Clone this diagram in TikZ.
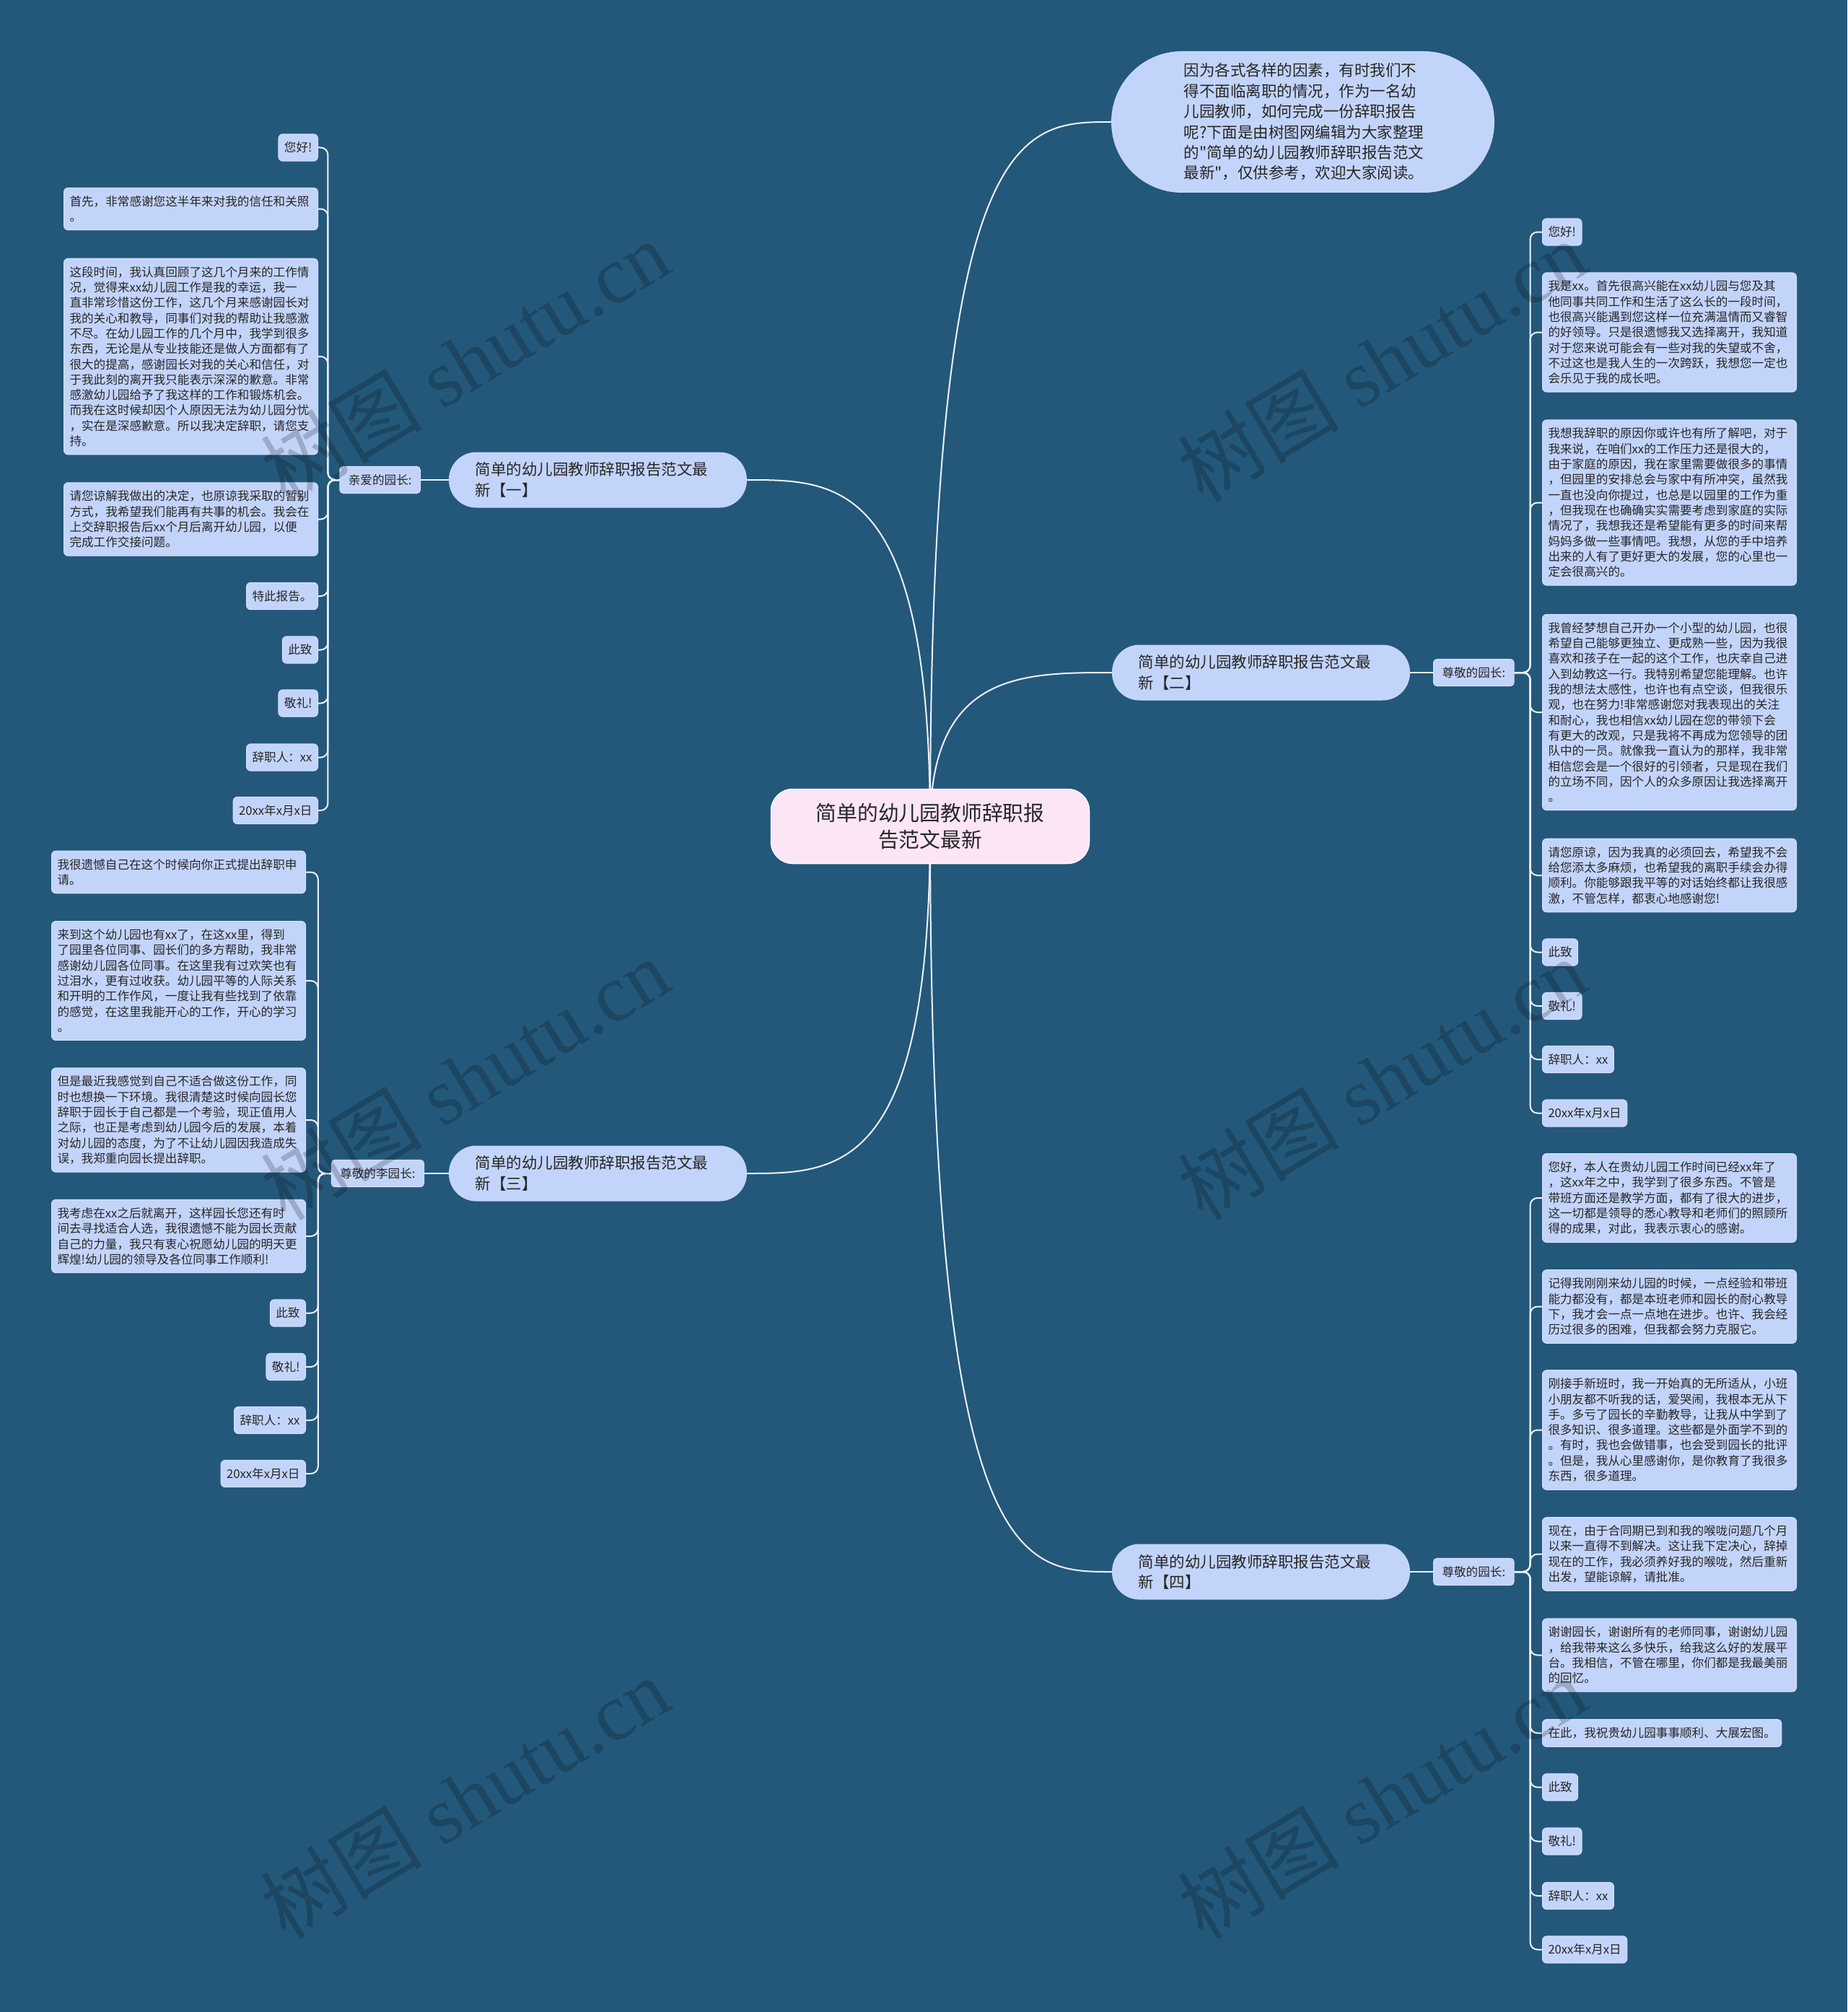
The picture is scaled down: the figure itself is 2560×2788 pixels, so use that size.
\documentclass[tikz,border=0pt]{standalone}
\usepackage{fontspec}
\newfontfamily\cjkfont{Noto Sans CJK SC}
\newfontfamily\wmfont{Liberation Serif}

\definecolor{bgblue}{HTML}{23587A}
\definecolor{leaffill}{HTML}{C3D4FA}
\definecolor{rootfill}{HTML}{FCE5F7}
\definecolor{linecol}{HTML}{EEF2FA}
\definecolor{textcol}{HTML}{262626}

\pgfdeclarelayer{back}
\pgfdeclarelayer{lines}
\pgfsetlayers{back,lines,main}

\tikzset{
  leaf/.style={fill=leaffill, draw=leaffill!70!white, line width=1pt, rounded corners=6pt,
    text=textcol, inner xsep=8pt, inner ysep=11pt, font=\cjkfont\fontsize{16.6}{21.3}\selectfont},
  longleaf/.style={leaf, text width=336pt, align=left},
  greet/.style={leaf, rounded corners=5pt, inner xsep=12pt},
  branch/.style={fill=leaffill, rounded corners=38pt, text=textcol, minimum width=413pt,
    minimum height=77pt, text width=340pt, align=left, inner sep=0pt,
    font=\cjkfont\fontsize{21.5}{28.4}\selectfont},
  intro/.style={branch, rounded corners=98pt, minimum width=531pt, minimum height=196pt, text width=330pt},
  root/.style={fill=rootfill, draw=white, line width=1.5pt, rounded corners=30pt, minimum width=441pt,
    minimum height=103pt, align=center, text=textcol, font=\cjkfont\fontsize{28.8}{37}\selectfont},
  conn/.style={draw=linecol, line width=2pt},
  spine/.style={conn, rounded corners=10pt},
  wmark/.style={rotate=31, text=black, opacity=0.2, font=\wmfont\fontsize{112}{112}\selectfont}
}

\begin{document}
\begin{tikzpicture}[x=1pt,y=-1pt]
  % Hintergrund
  \begin{pgfonlayer}{back}
    \fill[bgblue] (0,0) rectangle (2560,2788);
  \end{pgfonlayer}

  % Mitte
  \node[root] (root) at (1289,1145) {简单的幼儿园教师辞职报\\告范文最新};
  \node[intro] (intro) at (1805.5,169) {因为各式各样的因素，有时我们不\\得不面临离职的情况，作为一名幼\\儿园教师，如何完成一份辞职报告\\呢?下面是由树图网编辑为大家整理\\的"简单的幼儿园教师辞职报告范文\\最新"，仅供参考，欢迎大家阅读。};

  % Hauptzweige
  \node[branch] (br1) at (828.5,665) {简单的幼儿园教师辞职报告范文最\\新【一】};
  \node[branch] (br2) at (1747.5,932) {简单的幼儿园教师辞职报告范文最\\新【二】};
  \node[branch] (br3) at (828.5,1626) {简单的幼儿园教师辞职报告范文最\\新【三】};
  \node[branch] (br4) at (1747.5,2178) {简单的幼儿园教师辞职报告范文最\\新【四】};

  \node[greet, anchor=east] (g1) at (583,665) {亲爱的园长:};
  \node[greet, anchor=west] (g2) at (1986,932) {尊敬的园长:};
  \node[greet, anchor=east] (g3) at (588,1626) {尊敬的李园长:};
  \node[greet, anchor=west] (g4) at (1986,2178) {尊敬的园长:};

  % Zweig eins
  \node[leaf, anchor=east] (b1-1) at (441,204.5) {您好!};
  \node[longleaf, anchor=east] (b1-2) at (441,289.5) {首先，非常感谢您这半年来对我的信任和关照\\。};
  \node[longleaf, anchor=east] (b1-3) at (441,494) {这段时间，我认真回顾了这几个月来的工作情\\况，觉得来xx幼儿园工作是我的幸运，我一\\直非常珍惜这份工作，这几个月来感谢园长对\\我的关心和教导，同事们对我的帮助让我感激\\不尽。在幼儿园工作的几个月中，我学到很多\\东西，无论是从专业技能还是做人方面都有了\\很大的提高，感谢园长对我的关心和信任，对\\于我此刻的离开我只能表示深深的歉意。非常\\感激幼儿园给予了我这样的工作和锻炼机会。\\而我在这时候却因个人原因无法为幼儿园分忧\\，实在是深感歉意。所以我决定辞职，请您支\\持。};
  \node[longleaf, anchor=east] (b1-4) at (441,719.5) {请您谅解我做出的决定，也原谅我采取的暂别\\方式，我希望我们能再有共事的机会。我会在\\上交辞职报告后xx个月后离开幼儿园，以便\\完成工作交接问题。};
  \node[leaf, anchor=east] (b1-5) at (441,826) {特此报告。};
  \foreach \t/\y [count=\i from 6] in {此致/900.5, 敬礼!/974.5, 辞职人：xx/1049.5, 20xx年x月x日/1123}
    \node[leaf, anchor=east] (b1-\i) at (441,\y) {\t};

  % Zweig zwei
  \node[leaf, anchor=west] (b2-1) at (2137,321.5) {您好!};
  \node[longleaf, anchor=west] (b2-2) at (2137,460.5) {我是xx。首先很高兴能在xx幼儿园与您及其\\他同事共同工作和生活了这么长的一段时间，\\也很高兴能遇到您这样一位充满温情而又睿智\\的好领导。只是很遗憾我又选择离开，我知道\\对于您来说可能会有一些对我的失望或不舍，\\不过这也是我人生的一次跨跃，我想您一定也\\会乐见于我的成长吧。};
  \node[longleaf, anchor=west] (b2-3) at (2137,696.5) {我想我辞职的原因你或许也有所了解吧，对于\\我来说，在咱们xx的工作压力还是很大的，\\由于家庭的原因，我在家里需要做很多的事情\\，但园里的安排总会与家中有所冲突，虽然我\\一直也没向你提过，也总是以园里的工作为重\\，但我现在也确确实实需要考虑到家庭的实际\\情况了，我想我还是希望能有更多的时间来帮\\妈妈多做一些事情吧。我想，从您的手中培养\\出来的人有了更好更大的发展，您的心里也一\\定会很高兴的。};
  \node[longleaf, anchor=west] (b2-4) at (2137,987) {我曾经梦想自己开办一个小型的幼儿园，也很\\希望自己能够更独立、更成熟一些，因为我很\\喜欢和孩子在一起的这个工作，也庆幸自己进\\入到幼教这一行。我特别希望您能理解。也许\\我的想法太感性，也许也有点空谈，但我很乐\\观，也在努力!非常感谢您对我表现出的关注\\和耐心，我也相信xx幼儿园在您的带领下会\\有更大的改观，只是我将不再成为您领导的团\\队中的一员。就像我一直认为的那样，我非常\\相信您会是一个很好的引领者，只是现在我们\\的立场不同，因个人的众多原因让我选择离开\\。};
  \node[longleaf, anchor=west] (b2-5) at (2137,1213) {请您原谅，因为我真的必须回去，希望我不会\\给您添太多麻烦，也希望我的离职手续会办得\\顺利。你能够跟我平等的对话始终都让我很感\\激，不管怎样，都衷心地感谢您!};
  \foreach \t/\y [count=\i from 6] in {此致/1319.5, 敬礼!/1394, 辞职人：xx/1468, 20xx年x月x日/1542.5}
    \node[leaf, anchor=west] (b2-\i) at (2137,\y) {\t};

  % Zweig drei
  \node[longleaf, anchor=east] (b3-1) at (424,1208.5) {我很遗憾自己在这个时候向你正式提出辞职申\\请。};
  \node[longleaf, anchor=east] (b3-2) at (424,1359) {来到这个幼儿园也有xx了，在这xx里，得到\\了园里各位同事、园长们的多方帮助，我非常\\感谢幼儿园各位同事。在这里我有过欢笑也有\\过泪水，更有过收获。幼儿园平等的人际关系\\和开明的工作作风，一度让我有些找到了依靠\\的感觉，在这里我能开心的工作，开心的学习\\。};
  \node[longleaf, anchor=east] (b3-3) at (424,1552) {但是最近我感觉到自己不适合做这份工作，同\\时也想换一下环境。我很清楚这时候向园长您\\辞职于园长于自己都是一个考验，现正值用人\\之际，也正是考虑到幼儿园今后的发展，本着\\对幼儿园的态度，为了不让幼儿园因我造成失\\误，我郑重向园长提出辞职。};
  \node[longleaf, anchor=east] (b3-4) at (424,1713) {我考虑在xx之后就离开，这样园长您还有时\\间去寻找适合人选，我很遗憾不能为园长贡献\\自己的力量，我只有衷心祝愿幼儿园的明天更\\辉煌!幼儿园的领导及各位同事工作顺利!};
  \foreach \t/\y [count=\i from 5] in {此致/1819.5, 敬礼!/1894, 辞职人：xx/1968, 20xx年x月x日/2042}
    \node[leaf, anchor=east] (b3-\i) at (424,\y) {\t};

  % Zweig vier
  \node[longleaf, anchor=west] (b4-1) at (2137,1660) {您好，本人在贵幼儿园工作时间已经xx年了\\，这xx年之中，我学到了很多东西。不管是\\带班方面还是教学方面，都有了很大的进步，\\这一切都是领导的悉心教导和老师们的照顾所\\得的成果，对此，我表示衷心的感谢。};
  \node[longleaf, anchor=west] (b4-2) at (2137,1810.5) {记得我刚刚来幼儿园的时候，一点经验和带班\\能力都没有，都是本班老师和园长的耐心教导\\下，我才会一点一点地在进步。也许、我会经\\历过很多的困难，但我都会努力克服它。};
  \node[longleaf, anchor=west] (b4-3) at (2137,1981.5) {刚接手新班时，我一开始真的无所适从，小班\\小朋友都不听我的话，爱哭闹，我根本无从下\\手。多亏了园长的辛勤教导，让我从中学到了\\很多知识、很多道理。这些都是外面学不到的\\。有时，我也会做错事，也会受到园长的批评\\。但是，我从心里感谢你，是你教育了我很多\\东西，很多道理。};
  \node[longleaf, anchor=west] (b4-4) at (2137,2153.5) {现在，由于合同期已到和我的喉咙问题几个月\\以来一直得不到解决。这让我下定决心，辞掉\\现在的工作，我必须养好我的喉咙，然后重新\\出发，望能谅解，请批准。};
  \node[longleaf, anchor=west] (b4-5) at (2137,2293.5) {谢谢园长，谢谢所有的老师同事，谢谢幼儿园\\，给我带来这么多快乐，给我这么好的发展平\\台。我相信，不管在哪里，你们都是我最美丽\\的回忆。};
  \node[leaf, anchor=west] (b4-6) at (2137,2401.5) {在此，我祝贵幼儿园事事顺利、大展宏图。};
  \foreach \t/\y [count=\i from 7] in {此致/2476.5, 敬礼!/2551.5, 辞职人：xx/2627, 20xx年x月x日/2701.5}
    \node[leaf, anchor=west] (b4-\i) at (2137,\y) {\t};

  % Verbindungen
  \begin{pgfonlayer}{lines}
    \draw[conn] (root.center) .. controls (1289,169) and (1415,169) .. (intro.west);
    \draw[conn] (root.center) .. controls (1289,665) and (1162,665) .. (br1.east);
    \draw[conn] (root.center) .. controls (1289,932) and (1415,932) .. (br2.west);
    \draw[conn] (root.center) .. controls (1289,1626) and (1162,1626) .. (br3.east);
    \draw[conn] (root.center) .. controls (1289,2178) and (1415,2178) .. (br4.west);

    \draw[conn] (br1.west) -- (g1.east);
    \draw[conn] (br2.east) -- (g2.west);
    \draw[conn] (br3.west) -- (g3.east);
    \draw[conn] (br4.east) -- (g4.west);

    \foreach \i in {1,...,9} \draw[spine] (g1.west) -- ++(-16,0) |- (b1-\i.east);
    \foreach \i in {1,...,9} \draw[spine] (g2.east) -- ++(22,0) |- (b2-\i.west);
    \foreach \i in {1,...,8} \draw[spine] (g3.west) -- ++(-18,0) |- (b3-\i.east);
    \foreach \i in {1,...,10} \draw[spine] (g4.east) -- ++(22,0) |- (b4-\i.west);
  \end{pgfonlayer}

  % Wasserzeichen
  \foreach \x/\y [count=\k] in {644/500, 644/1495, 644/2491, 1915/500, 1915/1495, 1915/2491}
    \node[wmark] (wm-\k) at (\x,\y) {{\cjkfont 树图} shutu.cn};
\end{tikzpicture}
\end{document}
